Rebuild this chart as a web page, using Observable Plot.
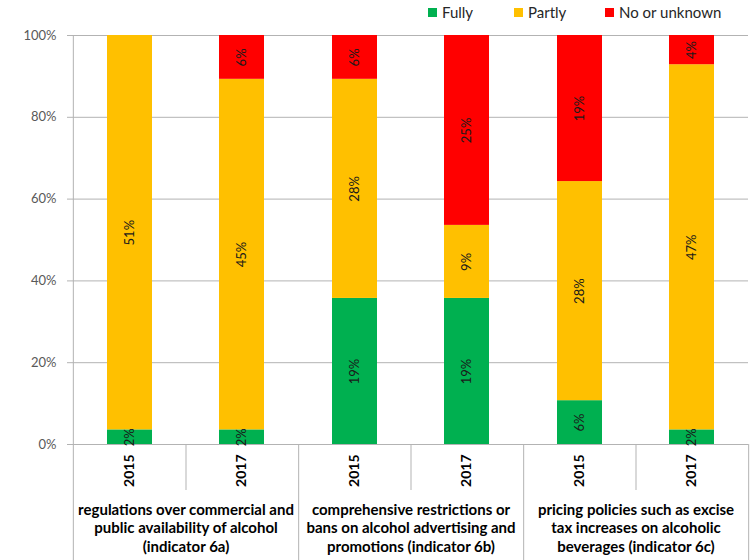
<!DOCTYPE html>
<html>
<head>
<meta charset="utf-8">
<script src="https://cdn.jsdelivr.net/npm/d3@7"></script>
<script src="https://cdn.jsdelivr.net/npm/@observablehq/plot@0.6"></script>
<style>
  html, body { margin: 0; padding: 0; background: #fff; }
  #wrap { position: relative; width: 750px; height: 560px; font-family: Lato, sans-serif; }
  #legend { position: absolute; top: 0; left: 0; width: 750px; height: 24px; font-size: 15px; color: #262626; }
  #legend .item { position: absolute; top: 3px; display: flex; align-items: center; line-height: 18px; }
  #legend .sw { width: 9px; height: 9px; margin-right: 5px; }
</style>
</head>
<body>
<div id="wrap"><div id="legend"></div></div>
<script>
// ---- data ----
const groups = [
  "regulations over commercial and\npublic availability of alcohol\n(indicator 6a)",
  "comprehensive restrictions or\nbans on alcohol advertising and\npromotions (indicator 6b)",
  "pricing policies such as excise\ntax increases on alcoholic\nbeverages (indicator 6c)"
];
const years = ["2015", "2017"];
const statuses = ["Fully", "Partly", "No or unknown"];
const statusColors = ["#00B050", "#FFC000", "#FF0000"];
// number of countries per bar (order: 6a-2015, 6a-2017, 6b-2015, 6b-2017, 6c-2015, 6c-2017)
const fullyCounts   = [1, 1, 10, 10, 3, 1];
const partlyCounts  = [27, 24, 15, 5, 15, 25];
const noneCounts    = [0, 3, 3, 13, 10, 2];
const fullyLabels   = ["2%", "2%", "19%", "19%", "6%", "2%"];
const partlyLabels  = ["51%", "45%", "28%", "9%", "28%", "47%"];
const noneLabels    = ["", "6%", "6%", "25%", "19%", "4%"];
const yTicks = [0, 0.2, 0.4, 0.6, 0.8, 1];
const legendLeft = [428, 514, 605];

// ---- table ----
const counts = [fullyCounts, partlyCounts, noneCounts];
const labels = [fullyLabels, partlyLabels, noneLabels];
const rows = [];
groups.forEach((g, gi) => years.forEach((yr, yi) => {
  const i = gi * years.length + yi;
  statuses.forEach((s, si) => rows.push({group: g, year: yr, status: s, count: counts[si][i], label: labels[si][i]}));
}));

// ---- layout ----
const W = 750, H = 560, MT = 35, MB = 116, ML = 72, MR = 2;
const frameH = H - MT - MB;
const facetW = (W - ML - MR) / groups.length;
const lineColor = "#b3b3b3";

const chart = Plot.plot({
  width: W, height: H,
  marginTop: MT, marginBottom: MB, marginLeft: ML, marginRight: MR,
  style: {fontFamily: "Lato, sans-serif", fontSize: "13px", background: "#fff", overflow: "visible"},
  fx: {domain: groups, padding: 0, axis: null},
  x: {domain: years, paddingInner: 0.6, paddingOuter: 0.3, axis: null},
  y: {domain: [0, 1], axis: null},
  color: {domain: statuses, range: statusColors},
  marks: [
    Plot.gridY(yTicks, {stroke: lineColor, strokeOpacity: 1}),
    Plot.barY(rows, {fx: "group", x: "year", y: "count", fill: "status", order: statuses, offset: "normalize"}),
    Plot.text(rows.filter(d => d.count > 0), Plot.stackY({
      fx: "group", x: "year", y: "count", z: "status", order: statuses, offset: "normalize",
      text: "label", rotate: -90, fontSize: 13, fill: "#1a1a1a"
    })),
    Plot.axisY({ticks: yTicks, tickFormat: d => Math.round(d * 100) + "%", tickSize: 6, tickPadding: 11,
      stroke: lineColor, strokeOpacity: 1, fill: "#595959", fontSize: 13, label: null}),
    Plot.axisX({tickRotate: -90, tickSize: 0, tickPadding: 10, fontWeight: "bold", fontSize: 14, fill: "#000", label: null}),
    // y axis line (left side, continues down through the category box)
    Plot.ruleX(groups.slice(0, 1), {fx: d => d, x: null, dx: -facetW / 2, insetBottom: -MB, stroke: lineColor}),
    // group separators below the plot
    Plot.ruleX(groups, {fx: d => d, x: null, dx: facetW / 2, insetTop: frameH, insetBottom: -MB, stroke: lineColor}),
    // year separators below the plot
    Plot.ruleX(groups, {fx: d => d, x: null, insetTop: frameH, insetBottom: -46, stroke: lineColor}),
    // group labels
    Plot.text(groups, {fx: d => d, text: d => d, frameAnchor: "bottom", lineAnchor: "top", dy: 57,
      lineHeight: 1.233, fontWeight: "bold", fontSize: 15, fill: "#000"})
  ]
});
document.getElementById("wrap").appendChild(chart);

// ---- legend ----
const legend = document.getElementById("legend");
statuses.forEach((s, i) => {
  const it = document.createElement("div");
  it.className = "item";
  it.style.left = legendLeft[i] + "px";
  const sw = document.createElement("div");
  sw.className = "sw";
  sw.style.background = statusColors[i];
  const tx = document.createElement("span");
  tx.textContent = s;
  it.appendChild(sw); it.appendChild(tx);
  legend.appendChild(it);
});
</script>
</body>
</html>
